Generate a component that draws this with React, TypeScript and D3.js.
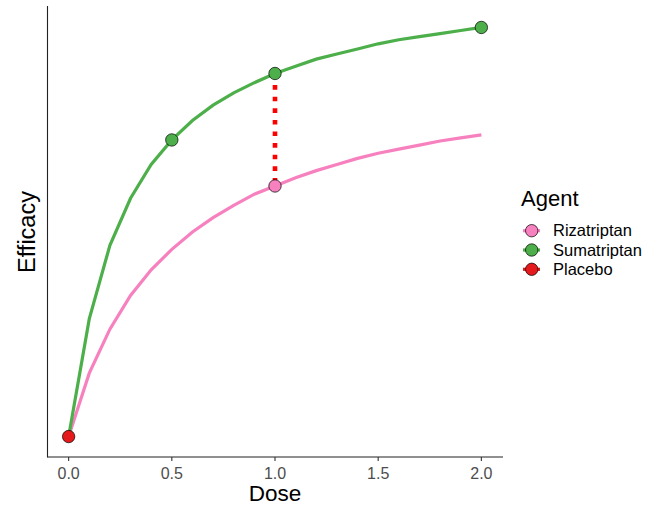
import React from "react";
import * as d3 from "d3";

const doses = [0, 0.1, 0.2, 0.3, 0.4, 0.5, 0.6, 0.7, 0.8, 0.9, 1.0, 1.1, 1.2, 1.3, 1.4, 1.5, 1.6, 1.7, 1.8, 1.9, 2.0];
const sumatriptanCurve = [0, 11.5, 18.7, 23.3, 26.6, 29.0, 30.9, 32.4, 33.6, 34.6, 35.5, 36.2, 36.9, 37.4, 37.9, 38.4, 38.8, 39.1, 39.4, 39.7, 40.0];
const rizatriptanCurve = [0, 6.2, 10.5, 13.8, 16.3, 18.3, 20.0, 21.4, 22.6, 23.7, 24.5, 25.3, 26.0, 26.6, 27.2, 27.7, 28.1, 28.5, 28.9, 29.2, 29.5];

const pointAgents = ["Sumatriptan", "Sumatriptan", "Sumatriptan", "Rizatriptan", "Placebo"];
const pointDoses = [0.5, 1.0, 2.0, 1.0, 0];
const pointValues = [29.0, 35.5, 40.0, 24.5, 0];

const gapDose = 1.0;
const gapFrom = 35.5;
const gapTo = 24.5;

const xTicks = [0, 0.5, 1.0, 1.5, 2.0];
const legendAgents = ["Rizatriptan", "Sumatriptan", "Placebo"];
const colors: Record<string, string> = {
  Rizatriptan: "#F781BF",
  Sumatriptan: "#4DAF4A",
  Placebo: "#E41A1C",
};

const W = 652;
const H = 505;
const FONT = "'Liberation Sans', Arial, sans-serif";

export default function App() {
  const x = d3.scaleLinear().domain([-0.1, 2.1]).range([48, 502]);
  const y = d3.scaleLinear().domain([-2, 42]).range([457, 7]);
  const line = d3
    .line<[number, number]>()
    .x((d) => x(d[0]))
    .y((d) => y(d[1]));
  const sumData = doses.map((d, i) => [d, sumatriptanCurve[i]] as [number, number]);
  const rizData = doses.map((d, i) => [d, rizatriptanCurve[i]] as [number, number]);
  const axisY = 457;
  const axisX = 47.5;

  return (
    <svg width={W} height={H} style={{ position: "absolute", left: 0, top: 0, background: "#fff" }} fontFamily={FONT}>
      <rect x={0} y={0} width={W} height={H} fill="#fff" />
      <path d={line(rizData) || ""} fill="none" stroke={colors.Rizatriptan} strokeWidth={3.2} />
      <path d={line(sumData) || ""} fill="none" stroke={colors.Sumatriptan} strokeWidth={3.2} />
      <line
        x1={x(gapDose)}
        x2={x(gapDose)}
        y1={y(gapFrom)}
        y2={y(gapTo)}
        stroke="#FF0000"
        strokeWidth={4.6}
        strokeDasharray="4.6 7"
      />
      {pointDoses.map((d, i) => (
        <circle
          key={i}
          cx={x(d)}
          cy={y(pointValues[i])}
          r={6.2}
          fill={colors[pointAgents[i]]}
          stroke="#000"
          strokeWidth={0.7}
        />
      ))}
      {/* axes */}
      <line x1={axisX} x2={axisX} y1={6} y2={axisY + 0.5} stroke="#222" strokeWidth={1.1} />
      <line x1={axisX} x2={503} y1={axisY} y2={axisY} stroke="#222" strokeWidth={1.1} />
      {xTicks.map((t) => (
        <g key={t}>
          <line x1={x(t)} x2={x(t)} y1={axisY} y2={axisY + 4} stroke="#333" strokeWidth={1.1} />
          <text x={x(t)} y={478.5} textAnchor="middle" fontSize={16} fill="#4D4D4D">
            {t.toFixed(1)}
          </text>
        </g>
      ))}
      <text x={x(1.0)} y={501} textAnchor="middle" fontSize={22.5} fill="#000">
        Dose
      </text>
      <text
        transform={`translate(35, ${(7 + 457) / 2}) rotate(-90)`}
        textAnchor="middle"
        fontSize={23.5}
        fill="#000"
      >
        Efficacy
      </text>
      {/* legend */}
      <text x={521} y={206} fontSize={22} fill="#000">
        Agent
      </text>
      {legendAgents.map((a, i) => {
        const cy = 230.7 + i * 19.3;
        return (
          <g key={a}>
            <line x1={523} x2={540} y1={cy} y2={cy} stroke={colors[a]} strokeWidth={3.2} />
            <circle cx={531.7} cy={cy} r={6.2} fill={colors[a]} stroke="#000" strokeWidth={0.7} />
            <text x={553} y={cy + 5.5} fontSize={16.5} fill="#000">
              {a}
            </text>
          </g>
        );
      })}
    </svg>
  );
}
